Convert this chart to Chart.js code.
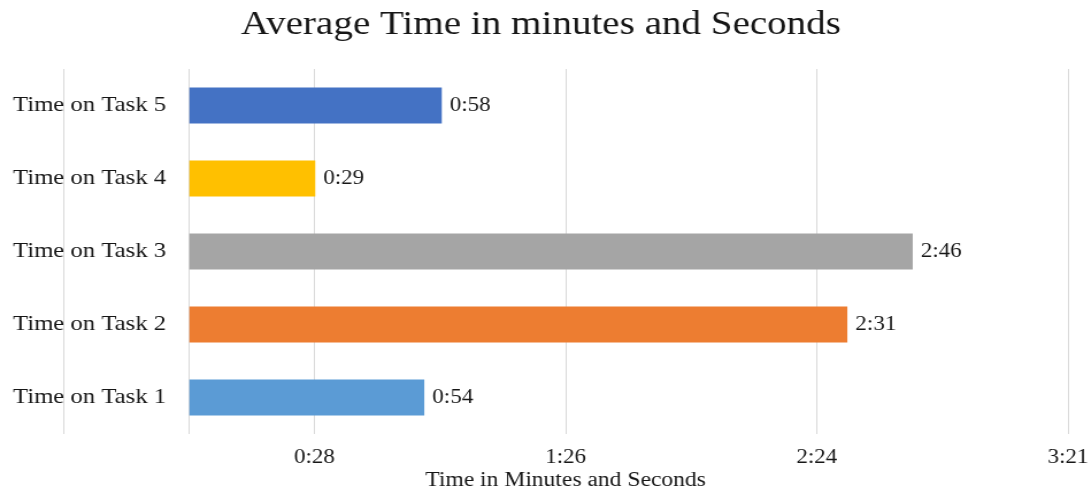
<!DOCTYPE html>
<html>
<head>
<meta charset="utf-8">
<script src="https://cdn.jsdelivr.net/npm/chart.js@4.4.1/dist/chart.umd.min.js"></script>
<style>
  html, body { margin: 0; padding: 0; background: #ffffff; overflow: hidden; }
  /* the chart is laid out narrow and widened to the page width */
  #wrap { width: 949px; height: 492px; transform: scaleX(1.1496); transform-origin: 0 0; }
  canvas { display: block; }
</style>
</head>
<body>
<div id="wrap"><canvas id="chart" width="949" height="492"></canvas></div>
<script>
// Tasks, listed top to bottom
const categories = ['Time on Task 5', 'Time on Task 4', 'Time on Task 3', 'Time on Task 2', 'Time on Task 1'];
// Average time per task, in seconds
const seconds = [58, 29, 166, 151, 54];
const barColors = ['#4472C4', '#FFC000', '#A5A5A5', '#ED7D31', '#5B9BD5'];

// Value axis ticks (seconds) and their printed labels
const tickValues = [-28.8, 0, 28.8, 86.4, 144, 201.6];
const tickLabels = ['', '', '0:28', '1:26', '2:24', '3:21'];

const SERIF = "'Liberation Serif', 'Times New Roman', serif";
const INK = '#161616';

function mmss(s) {
  const m = Math.floor(s / 60);
  const r = Math.round(s - m * 60);
  return m + ':' + String(r).padStart(2, '0');
}

// Writes m:ss just past the end of each bar
const barValueLabels = {
  id: 'barValueLabels',
  afterDatasetsDraw(chart) {
    const ctx = chart.ctx;
    const meta = chart.getDatasetMeta(0);
    ctx.save();
    ctx.font = '20px ' + SERIF;
    ctx.fillStyle = INK;
    ctx.textAlign = 'left';
    ctx.textBaseline = 'middle';
    meta.data.forEach((bar, i) => {
      ctx.fillText(mmss(chart.data.datasets[0].data[i]), bar.x + 7, bar.y);
    });
    ctx.restore();
  }
};

new Chart(document.getElementById('chart'), {
  type: 'bar',
  data: {
    labels: categories,
    datasets: [{
      data: seconds,
      backgroundColor: barColors,
      borderWidth: 0,
      barPercentage: 0.493,
      categoryPercentage: 1
    }]
  },
  options: {
    indexAxis: 'y',
    responsive: false,
    animation: false,
    devicePixelRatio: 1,
    layout: { padding: { left: 0, right: 8, top: 0, bottom: 0 } },
    plugins: {
      legend: { display: false },
      tooltip: { enabled: false },
      title: {
        display: true,
        text: 'Average Time in minutes and Seconds',
        color: INK,
        font: { family: SERIF, size: 34, weight: 'normal', lineHeight: 1.2 },
        padding: { top: 5, bottom: 23.2 }
      }
    },
    scales: {
      x: {
        type: 'linear',
        min: -28.8,
        max: 201.6,
        afterBuildTicks(scale) {
          scale.ticks = tickValues.map(v => ({ value: v }));
        },
        afterFit(scale) { scale.height = 58; },
        grid: { color: '#d9d9d9', lineWidth: 1, drawTicks: false },
        border: { display: false },
        ticks: {
          autoSkip: false,
          maxRotation: 0,
          padding: 2.2,
          color: INK,
          font: { family: SERIF, size: 20, lineHeight: 2.2 },
          callback: (value, index) => tickLabels[index]
        },
        title: {
          display: true,
          text: 'Time in Minutes and Seconds',
          color: INK,
          font: { family: SERIF, size: 20.5, lineHeight: 1 },
          padding: { top: 0, bottom: 1 }
        }
      },
      y: {
        grid: { display: false, drawTicks: false },
        border: { display: false },
        afterFit(scale) { scale.width = 55; },
        ticks: {
          mirror: true,
          crossAlign: 'near',
          padding: -43.7,
          color: INK,
          font: { family: SERIF, size: 21.5 }
        }
      }
    }
  },
  plugins: [barValueLabels]
});
</script>
</body>
</html>
